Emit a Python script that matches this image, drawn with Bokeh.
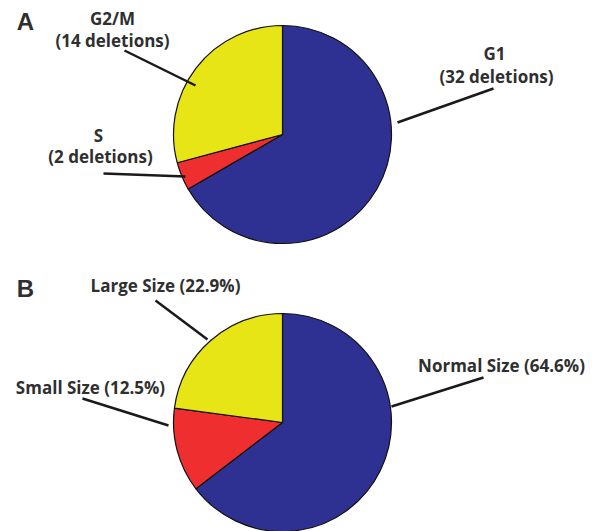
import math
from bokeh.plotting import figure
from bokeh.models import Range1d, ColumnDataSource
from bokeh.core.properties import value
from bokeh.embed import file_html
from bokeh.resources import INLINE

# ---- data ----
cycle_phases = ["G1", "S", "G2/M"]
cycle_deletions = [32, 2, 14]
size_classes = ["Normal Size", "Small Size", "Large Size"]
size_percent = [64.6, 12.5, 22.9]
slice_colors = ["#2E3192", "#EE2E2F", "#E8E517"]

# ---- layout (page pixels) ----
W, H = 595, 531
def Y(py):
    return H - py

centers = {"A": (282, 134), "B": (282, 422)}
RADIUS = 109

p = figure(width=W, height=H, output_backend="svg", toolbar_location=None,
           x_range=Range1d(0, W), y_range=Range1d(0, H), min_border=0)
p.axis.visible = False
p.grid.visible = False
p.outline_line_color = None
p.background_fill_color = "white"

def pie(vals, center):
    total = float(sum(vals))
    cum = 0.0
    starts, ends = [], []
    for v in vals:
        a0 = math.pi / 2 - 2 * math.pi * (cum + v) / total
        a1 = math.pi / 2 - 2 * math.pi * cum / total
        starts.append(a0)
        ends.append(a1)
        cum += v
    src = ColumnDataSource(dict(x=[center[0]] * len(vals), y=[Y(center[1])] * len(vals),
                                start=starts, end=ends, color=slice_colors[:len(vals)]))
    p.wedge(x="x", y="y", radius=RADIUS, start_angle="start", end_angle="end",
            fill_color="color", line_color="#111111", line_width=1.2, source=src)

pie(cycle_deletions, centers["A"])
pie(size_percent, centers["B"])

TXT = "#2f2f2f"
FONT = value("Open Sans")

def label(x, y, s, size="17px"):
    p.text(x=[x], y=[Y(y)], text=[s], text_font=FONT, text_font_size=size,
           text_font_style="bold", text_color=TXT, text_align="center",
           text_baseline="middle")

def leader(x0, y0, x1, y1):
    p.line([x0, x1], [Y(y0), Y(y1)], line_color="#1a1a1a", line_width=2.5)

# Panel A labels
a_pos = {"G1": ((494, 53), (496, 76)), "S": ((98, 135), (100, 156)),
         "G2/M": ((112, 18), (112, 40))}
for name, n in zip(cycle_phases, cycle_deletions):
    (x1, y1), (x2, y2) = a_pos[name]
    label(x1, y1, name)
    label(x2, y2, f"({n} deletions)")

leader(124, 50, 195, 85)
leader(103, 173, 185, 176)
leader(493, 88, 397, 122)

# Panel B labels
b_pos = {"Normal Size": (501, 365), "Small Size": (90, 387), "Large Size": (165, 285)}
for name, v in zip(size_classes, size_percent):
    x, y = b_pos[name]
    label(x, y, f"{name} ({v}%)")

leader(155, 300, 207, 339)
leader(82, 398, 168, 425)
leader(483, 377, 391, 406)

# panel letters
for letter, py in (("A", 21), ("B", 288)):
    p.text(x=[25], y=[Y(py)], text=[letter], text_font=value("Liberation Sans"),
           text_font_size="24px", text_font_style="bold", text_color=TXT,
           text_align="center", text_baseline="middle")

open("out.html", "w").write(file_html(p, INLINE))
